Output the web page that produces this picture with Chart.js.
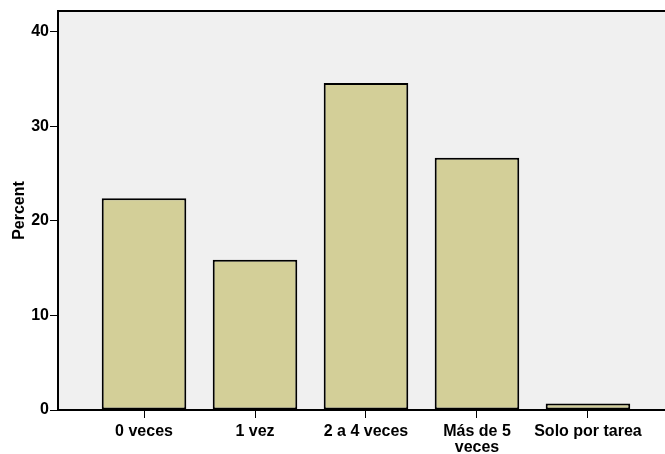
<!DOCTYPE html>
<html>
<head>
<meta charset="utf-8">
<script src="https://cdn.jsdelivr.net/npm/chart.js@4"></script>
<style>
html,body{margin:0;padding:0;background:#fff;overflow:hidden;}
#wrap{width:665px;height:454px;}
</style>
</head>
<body>
<div id="wrap"><canvas id="c" width="665" height="454"></canvas></div>
<script>
const categories = ["0 veces", "1 vez", "2 a 4 veces", ["Más de 5", "veces"], "Solo por tarea"];
const percentValues = [22.4, 15.9, 34.6, 26.7, 0.7];
const yTickValues = [0, 10, 20, 30, 40];
const yAxisTitle = "Percent";

const FONT = "'Liberation Sans', Arial, Helvetica, sans-serif";

const plotBg = {
  id: 'plotBg',
  beforeDraw(chart) {
    const a = chart.chartArea, ctx = chart.ctx;
    ctx.save();
    ctx.fillStyle = '#F0F0F0';
    ctx.fillRect(a.left, a.top, a.right - a.left, a.bottom - a.top);
    ctx.restore();
  },
  afterDraw(chart) {
    const a = chart.chartArea, ctx = chart.ctx;
    ctx.save();
    ctx.strokeStyle = '#000';
    ctx.lineWidth = 2;
    ctx.beginPath();
    ctx.moveTo(a.left - 1, a.top);
    ctx.lineTo(a.right + 2, a.top);
    ctx.stroke();
    ctx.restore();
  }
};

new Chart(document.getElementById('c'), {
  type: 'bar',
  data: {
    datasets: [{
      data: percentValues.map((v, i) => ({ x: i, y: v })),
      backgroundColor: '#D3CF98',
      borderColor: '#000',
      borderWidth: 2,
      borderSkipped: false,
      barPercentage: 0.762,
      categoryPercentage: 1
    }]
  },
  options: {
    responsive: false,
    animation: false,
    layout: { padding: { left: 0, top: 11, right: 0, bottom: 0 } },
    plugins: { legend: { display: false }, tooltip: { enabled: false } },
    scales: {
      x: {
        type: 'linear',
        offset: false,
        min: -0.775,
        max: 4.694,
        afterBuildTicks(scale) { scale.ticks = categories.map((c, i) => ({ value: i })); },
        afterFit(scale) { scale.height = 44; },
        ticks: {
          color: '#000',
          font: { family: FONT, size: 16, weight: 'bold', lineHeight: 1.0 },
          padding: 6,
          maxRotation: 0,
          autoSkip: false,
          callback: (v, i) => categories[i]
        },
        grid: { offset: false, drawOnChartArea: false, color: '#000', lineWidth: 1, tickLength: 8 },
        border: { color: '#000', width: 2 }
      },
      y: {
        min: 0,
        max: 42.22,
        afterBuildTicks(scale) { scale.ticks = yTickValues.map(v => ({ value: v })); },
        afterFit(scale) { scale.width = 58; },
        ticks: {
          color: '#000',
          font: { family: FONT, size: 16, weight: 'bold' },
          padding: 1
        },
        grid: { drawOnChartArea: false, color: '#000', lineWidth: 1, tickLength: 8 },
        border: { color: '#000', width: 2 },
        title: {
          display: true,
          text: yAxisTitle,
          color: '#000',
          font: { family: FONT, size: 16, weight: 'bold' },
          padding: { top: 10, bottom: 0 }
        }
      }
    }
  },
  plugins: [plotBg]
});
</script>
</body>
</html>
